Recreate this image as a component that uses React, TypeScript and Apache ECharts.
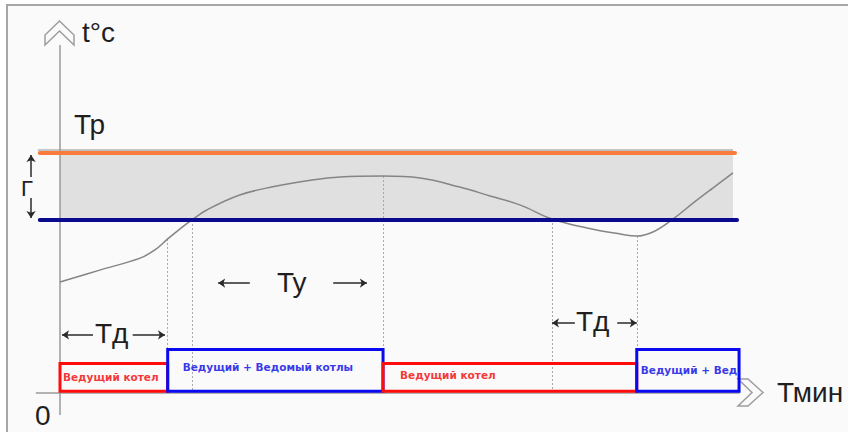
import React, { useEffect, useRef } from "react";
import * as echarts from "echarts";

// ---- data (time in arbitrary units, temperature in arbitrary units) ----
const curveTime = [0, 5.9, 11.9, 14.1, 16.0, 17.8, 19.6, 21.8, 26.7, 31.6, 36.7, 41.6, 48.0, 53.5, 59.4, 63.9, 68.4, 73.1, 78.3, 83.2, 85.7, 88.1, 90.9, 94.1, 97.0, 100];
const curveTemp = [46.25, 51.2, 56.2, 59.6, 64.2, 68.3, 72.1, 76.25, 82.5, 85.9, 88.4, 90.0, 90.4, 89.6, 85.8, 82.1, 78.3, 72.5, 68.75, 66.25, 65.4, 67.1, 72.1, 79.2, 85.4, 91.7];

const levelTr = 100; // Тр
const levelLow = 72.1; // Тр − Г
const bandTop = 101.2;

const markerTime = [16.0, 19.6, 48.0, 73.1, 85.7];
const markerTemp = [64.2, 72.1, 90.4, 72.5, 65.4];

const modeStart = [0, 16.0, 48.0, 85.7];
const modeEnd = [16.0, 48.0, 85.7, 100.9];
const modeLevel = [12.3, 18.1, 12.3, 18.1];
const modeLabel = ["Ведущий котел", "Ведущий + Ведомый котлы", "Ведущий котел", "Ведущий + Вед"];
const modeKind = ["lead", "both", "lead", "both"];

// interval arrows: [fromX, fromY, toX, toY]
const arrowSegments = [
  [4.9, 24.2, 0.3, 24.2],
  [10.8, 24.2, 15.6, 24.2],
  [28.2, 45.8, 23.5, 45.8],
  [40.6, 45.8, 45.6, 45.8],
  [76.5, 29.2, 73.1, 29.2],
  [82.8, 29.2, 85.7, 29.2],
  [-4.3, 90.0, -4.3, 99.2],
  [-4.3, 81.2, -4.3, 72.9],
];

// ---- styles ----
const kindStroke: Record<string, string> = { lead: "#ff0d0d", both: "#0a0af0" };
const kindText: Record<string, string> = { lead: "#f23a3a", both: "#3a3ae8" };
const labelPad = [3, 15, 17, 4];
const labelDy = [0, -3, -2, 0];
const FONT = "Liberation Sans, Arial, sans-serif";

export default function App() {
  const ref = useRef<HTMLDivElement>(null);

  useEffect(() => {
    document.body.style.margin = "0";
    const chart = echarts.init(ref.current!, null, { renderer: "svg" });

    const textEl = (t: string, x: number, y: number, size = 28) => ({
      type: "text",
      x,
      y,
      z: 10,
      style: { text: t, fill: "#1f1f1f", fontSize: size, fontFamily: FONT, verticalAlign: "middle", align: "left" },
    });

    const option: any = {
      animation: false,
      backgroundColor: "#ffffff",
      grid: { left: 6.16, top: 33, width: 807.6, height: 384 },
      xAxis: { type: "value", min: -8, max: 112, show: false },
      yAxis: { type: "value", min: -10, max: 150, show: false },
      graphic: [
        {
          type: "rect",
          z: -10,
          shape: { x: 7, y: 5, width: 900, height: 500 },
          style: { fill: "#fafafa", stroke: "#a6a6a6", lineWidth: 2 },
        },
        {
          type: "polygon",
          z: 5,
          shape: { points: [[59.5, 21], [74, 35], [74, 45], [59.5, 31], [45, 45], [45, 35]] },
          style: { fill: "#fafafa", stroke: "#9d9d9d", lineWidth: 1.5 },
        },
        {
          type: "polygon",
          z: 5,
          shape: { points: [[738, 379], [748, 379], [763, 392.5], [748, 406], [738, 406], [752, 392.5]] },
          style: { fill: "#fafafa", stroke: "#9d9d9d", lineWidth: 1.5 },
        },
        textEl("t°c", 82, 32),
        textEl("Тр", 74, 124),
        textEl("Г", 21, 188, 22),
        textEl("Тд", 95, 333),
        textEl("Ту", 277, 282),
        textEl("Тд", 576, 321),
        textEl("0", 35, 415),
        textEl("Тмин", 777, 392),
      ],
      series: [
        {
          type: "custom",
          silent: true,
          z: 1,
          data: [[0, 100, levelLow, bandTop]],
          renderItem: (_p: any, api: any) => {
            const a = api.coord([api.value(0), api.value(3)]);
            const b = api.coord([api.value(1), api.value(2)]);
            return { type: "rect", shape: { x: a[0], y: a[1], width: b[0] - a[0], height: b[1] - a[1] }, style: { fill: "#e0e0e0" } };
          },
        },
        {
          type: "line",
          silent: true,
          symbol: "none",
          z: 2,
          lineStyle: { color: "#b5b5b5", width: 1.5 },
          data: [[-3.3, bandTop], [100, bandTop]],
        },
        {
          type: "line",
          silent: true,
          symbol: "none",
          z: 3,
          lineStyle: { color: "#9a9a9a", width: 1.5 },
          data: [[-3.6, 0], [101, 0]],
        },
        {
          type: "line",
          silent: true,
          symbol: "none",
          z: 3,
          lineStyle: { color: "#9a9a9a", width: 1.5 },
          data: [[0, -9.2], [0, 145]],
        },
        {
          type: "lines",
          coordinateSystem: "cartesian2d",
          silent: true,
          z: 2,
          symbol: "none",
          lineStyle: { color: "#a8a8a8", width: 1, type: [2, 2], opacity: 1 },
          data: markerTime.map((t, i) => ({ coords: [[t, markerTemp[i]], [t, 1]] })),
        },
        {
          type: "line",
          silent: true,
          symbol: "none",
          smooth: 0.4,
          z: 3,
          lineStyle: { color: "#858585", width: 1.5 },
          data: curveTime.map((t, i) => [t, curveTemp[i]]),
        },
        {
          type: "line",
          silent: true,
          symbol: "none",
          z: 4,
          lineStyle: { color: "#f97c3c", width: 4, cap: "round" },
          data: [[-3, levelTr], [100.3, levelTr]],
        },
        {
          type: "line",
          silent: true,
          symbol: "none",
          z: 4,
          lineStyle: { color: "#0a0a8e", width: 4, cap: "round" },
          data: [[-3, levelLow], [100.6, levelLow]],
        },
        {
          type: "custom",
          silent: true,
          z: 5,
          data: modeStart.map((s, i) => [s, modeEnd[i], modeLevel[i], i]),
          renderItem: (_p: any, api: any) => {
            const i = api.value(3);
            const a = api.coord([api.value(0), api.value(2)]);
            const b = api.coord([api.value(1), 0.7]);
            const kind = modeKind[i];
            const w = b[0] - a[0];
            const h = b[1] - a[1];
            return {
              type: "group",
              children: [
                {
                  type: "rect",
                  shape: { x: a[0], y: a[1], width: w, height: h },
                  style: { fill: "transparent", stroke: kindStroke[kind], lineWidth: 3 },
                },
                {
                  type: "text",
                  x: a[0] + labelPad[i],
                  y: a[1] + h / 2 + labelDy[i],
                  style: {
                    text: modeLabel[i],
                    fill: kindText[kind],
                    fontSize: 10.5,
                    fontWeight: "bold",
                    fontFamily: "DejaVu Sans, Verdana, sans-serif",
                    align: "left",
                    verticalAlign: "middle",
                  },
                },
              ],
            };
          },
        },
        {
          type: "lines",
          coordinateSystem: "cartesian2d",
          silent: true,
          z: 6,
          symbol: ["none", "arrow"],
          symbolSize: 7,
          lineStyle: { color: "#2a2a2a", width: 1.5, opacity: 1 },
          data: arrowSegments.map((s) => ({ coords: [[s[0], s[1]], [s[2], s[3]]] })),
        },
      ],
    };

    chart.setOption(option);
    return () => chart.dispose();
  }, []);

  return <div ref={ref} style={{ width: 848, height: 432 }} />;
}
